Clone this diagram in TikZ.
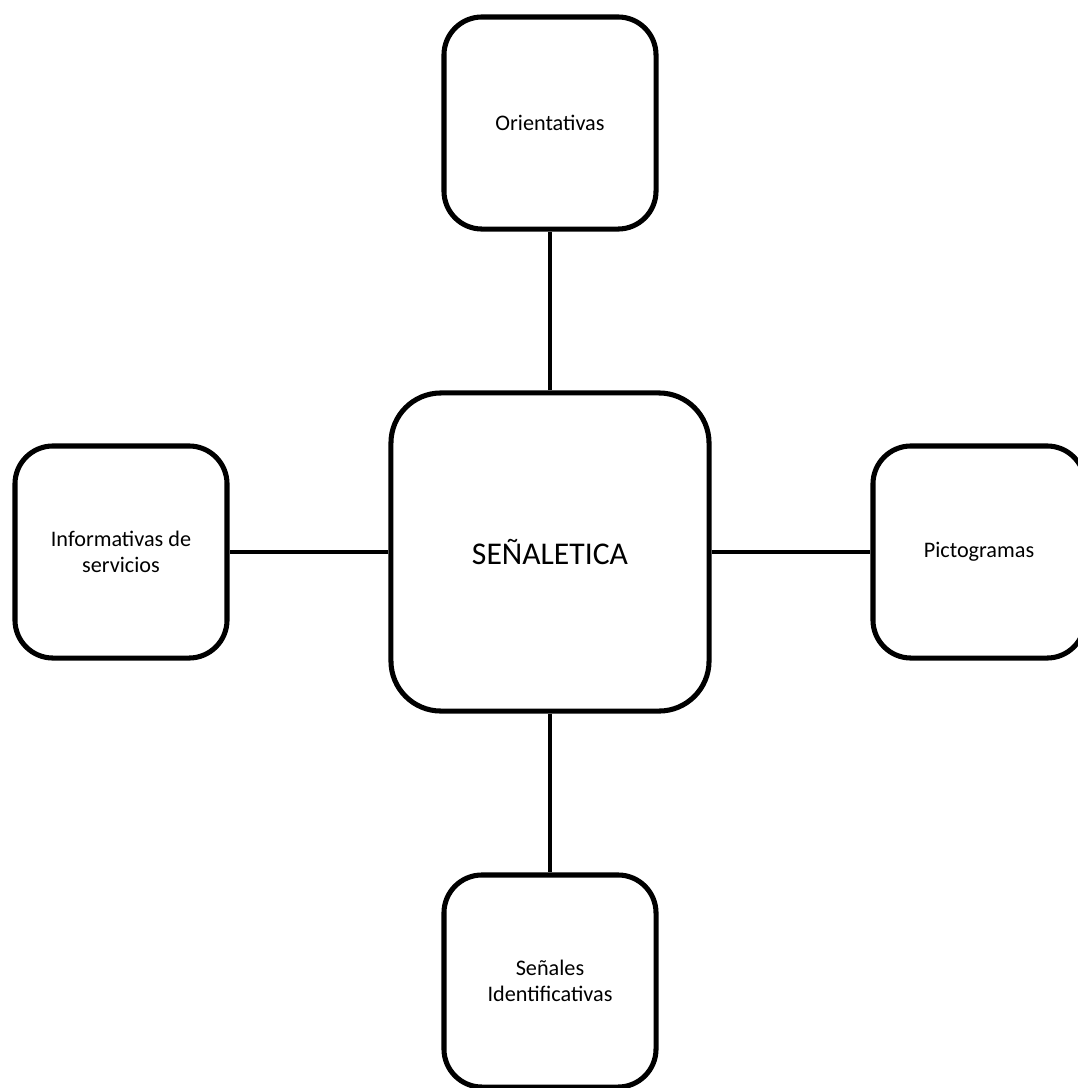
\documentclass[tikz,border=0pt]{standalone}
\usepackage{fontspec}
\setmainfont{Carlito}
\tikzset{
    caja/.style={draw, line width=3.6pt, rounded corners=0.95cm, minimum size=5.3cm,
        align=center, font=\fontsize{15.8}{18.5}\selectfont},
    centro/.style={caja, rounded corners=1.25cm, minimum size=7.95cm,
        font=\fontsize{22.5}{26}\selectfont},
    enlace/.style={line width=3.2pt}
}
\begin{document}
\begin{tikzpicture}[x=0.025cm, y=-0.025cm]
        \clip (0, 0) rectangle (1078, 1088);
        \useasboundingbox (0, 0) rectangle (1078, 1088);
        \node[centro] (senal) at (550, 552) {SEÑALETICA};
        \node[caja] (orient) at (550, 123) {Orientativas};
        \node[caja] (inform) at (121, 552) {Informativas de\\servicios};
        \node[caja] (picto) at (979, 552) {Pictogramas};
        \node[caja] (ident) at (550, 981) {Señales\\Identificativas};
        \draw[enlace] (senal) -- (orient);
        \draw[enlace] (senal) -- (inform);
        \draw[enlace] (senal) -- (picto);
        \draw[enlace] (senal) -- (ident);
    \end{tikzpicture}
\end{document}
